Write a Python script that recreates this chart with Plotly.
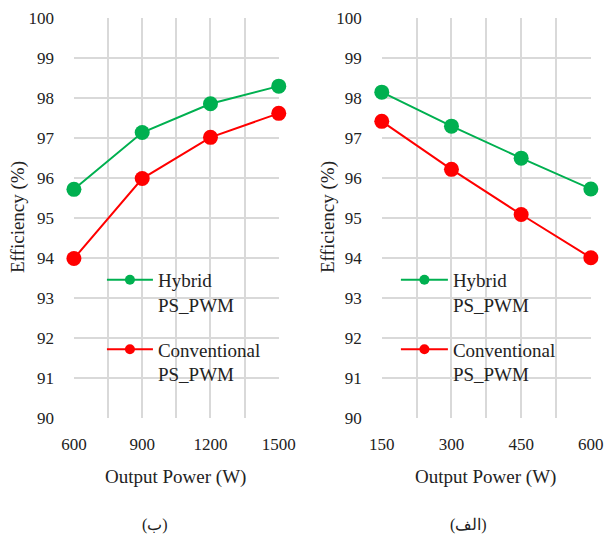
import plotly.graph_objects as go

# Data
power_b = [600, 900, 1200, 1500]
hybrid_b = [95.71, 97.13, 97.85, 98.29]
conv_b = [93.98, 95.98, 97.01, 97.61]

power_a = [150, 300, 450, 600]
hybrid_a = [98.14, 97.29, 96.49, 95.72]
conv_a = [97.41, 96.21, 95.08, 94.0]

names = ["Hybrid<br>PS_PWM", "Conventional<br>PS_PWM"]
captions = ["(ب)", "(الف)"]
x_title = "Output Power (W)"
y_title = "Efficiency (%)"

GREEN = "#00b050"
RED = "#ff0000"
GRID = "#d9d9d9"
FONT = "Liberation Serif, Times New Roman, DejaVu Serif, serif"

fig = go.Figure()

def add_series(x, y, color, name, xa, ya, legend, group):
    fig.add_trace(go.Scatter(
        x=x, y=y, mode="lines+markers", name=name,
        line=dict(color=color, width=2),
        marker=dict(color=color, size=15),
        cliponaxis=False, showlegend=False,
        xaxis=xa, yaxis=ya))
    # legend entry with smaller marker
    fig.add_trace(go.Scatter(
        x=[None], y=[None], mode="lines+markers", name=name,
        line=dict(color=color, width=2),
        marker=dict(color=color, size=10),
        legend=legend, legendgroup=group, showlegend=True,
        xaxis=xa, yaxis=ya))

add_series(power_b, hybrid_b, GREEN, names[0], "x", "y", "legend", "h1")
add_series(power_b, conv_b, RED, names[1], "x", "y", "legend", "c1")
add_series(power_a, hybrid_a, GREEN, names[0], "x2", "y2", "legend2", "h2")
add_series(power_a, conv_a, RED, names[1], "x2", "y2", "legend2", "c2")

ydom = [0.2236, 0.967]
axis_common = dict(showgrid=True, gridcolor=GRID, gridwidth=1.5, zeroline=False,
                   showline=False, ticks="", tickfont=dict(family=FONT, size=17, color="#222"),
                   automargin=False)

fig.update_layout(
    width=606, height=538,
    margin=dict(l=0, r=0, t=0, b=0, autoexpand=False),
    paper_bgcolor="white", plot_bgcolor="white",
    font=dict(family=FONT, size=19, color="#222"),
    xaxis=dict(domain=[0.122, 0.46], range=[600, 1500], dtick=300, tick0=600,
               minor=dict(dtick=150, tick0=600, showgrid=True, gridcolor=GRID, gridwidth=1.5),
               ticklabelstandoff=14, anchor="y", **axis_common),
    yaxis=dict(domain=ydom, range=[90, 100], dtick=1, anchor="x", ticklabelstandoff=19, **axis_common),
    xaxis2=dict(domain=[0.63, 0.975], range=[150, 600], dtick=150, tick0=150,
                minor=dict(dtick=75, tick0=150, showgrid=True, gridcolor=GRID, gridwidth=1.5),
                ticklabelstandoff=14, anchor="y2", **axis_common),
    yaxis2=dict(domain=ydom, range=[90, 100], dtick=1, anchor="x2", ticklabelstandoff=19, **axis_common),
    legend=dict(x=0.155 + 8 / 606, y=0.515, xanchor="left", yanchor="top", bgcolor="rgba(0,0,0,0)",
                font=dict(family=FONT, size=19, color="#222"), valign="top",
                traceorder="grouped", tracegroupgap=17, itemwidth=46),
    legend2=dict(x=0.65 + 2 / 606, y=0.515, xanchor="left", yanchor="top", bgcolor="rgba(0,0,0,0)",
                 font=dict(family=FONT, size=19, color="#222"), valign="top",
                 traceorder="grouped", tracegroupgap=17, itemwidth=47),
)

ann = []
for cx, capx, caption in [(175.5 / 606, 155 / 606, captions[0]), (485 / 606, 468 / 606, captions[1])]:
    ann.append(dict(x=cx, y=(538 - 477) / 538, xref="paper", yref="paper", text=x_title,
                    xanchor="center", yanchor="middle",
                    showarrow=False, font=dict(family=FONT, size=19, color="#222")))
    ann.append(dict(x=capx, y=(538 - 525) / 538, xref="paper", yref="paper", text=caption,
                    xanchor="center", yanchor="middle",
                    showarrow=False, font=dict(family=FONT, size=16, color="#222")))
for px in [18, 328]:
    ann.append(dict(x=px / 606, y=(538 - 217) / 538, xref="paper", yref="paper", text=y_title,
                    xanchor="center", yanchor="middle",
                    textangle=-90, showarrow=False, font=dict(family=FONT, size=19, color="#222")))
fig.update_layout(annotations=ann)

fig.write_html("out.html")
